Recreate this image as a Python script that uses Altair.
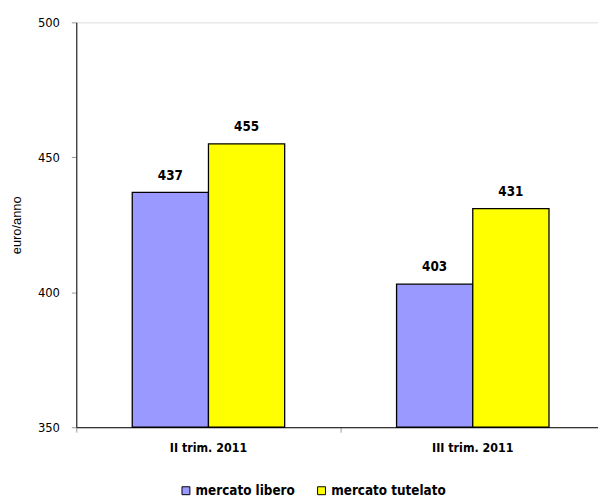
import altair as alt
import pandas as pd

categories = ["II trim. 2011", "III trim. 2011"]
series = ["mercato libero", "mercato tutelato"]
libero = [437, 403]
tutelato = [455, 431]
colors = ["#9999FF", "#FFFF00"]

rows = []
for i, c in enumerate(categories):
    rows.append({"cat": c, "serie": series[0], "val": libero[i]})
    rows.append({"cat": c, "serie": series[1], "val": tutelato[i]})
df = pd.DataFrame(rows)

FONT = "DejaVu Sans Condensed"

x = alt.X("cat:N", sort=categories, title=None,
          scale=alt.Scale(paddingInner=0, paddingOuter=0),
          axis=alt.Axis(labelAngle=0, labelFontWeight="bold", labelFontSize=12.5,
                        labelColor="black", labelFont=FONT, labelPadding=10,
                        domainColor="black", tickColor="#999999", tickSize=5,
                        bandPosition=0))
xo = alt.XOffset("serie:N", sort=series,
                 scale=alt.Scale(paddingInner=0, paddingOuter=0.734))

base = alt.Chart(df)

bars = base.mark_bar(stroke="black", strokeWidth=1.3).encode(
    x=x, xOffset=xo,
    y=alt.Y("val:Q", title="euro/anno",
            scale=alt.Scale(domain=[350, 500], zero=False, nice=False),
            axis=alt.Axis(values=[350, 400, 450, 500], grid=False,
                          labelFontSize=13, labelColor="black", labelFont=FONT,
                          labelPadding=12, domainColor="black",
                          tickColor="#999999", tickSize=5,
                          titleFontSize=13, titleFontWeight="normal",
                          titleFont="Liberation Sans", titleColor="black",
                          titlePadding=14)),
    y2=alt.datum(350),
    color=alt.Color("serie:N", sort=series,
                    scale=alt.Scale(domain=series, range=colors),
                    legend=alt.Legend(title=None, orient="none", direction="horizontal",
                                      legendX=104, legendY=466,
                                      symbolType="square", symbolSize=64,
                                      symbolStrokeColor="black", symbolStrokeWidth=1,
                                      labelFontSize=13.5, labelFontWeight="bold",
                                      labelFont=FONT, labelColor="black",
                                      labelOffset=3,
                                      columnPadding=20, symbolOpacity=1)),
)

labels = base.mark_text(dy=-10, fontWeight="bold", fontSize=13.5, font=FONT,
                        color="black", baseline="bottom").encode(
    x=x, xOffset=xo, y=alt.Y("val:Q"), text=alt.Text("val:Q")
)

chart = (bars + labels).properties(
    width=534, height=409,
    padding={"left": 69, "top": 12, "right": -7, "bottom": 70},
    autosize=alt.AutoSizeParams(type="none"),
).configure_view(stroke=None).configure(background="white")

chart.save("out.html", embed_options={"renderer": "svg", "actions": False})
